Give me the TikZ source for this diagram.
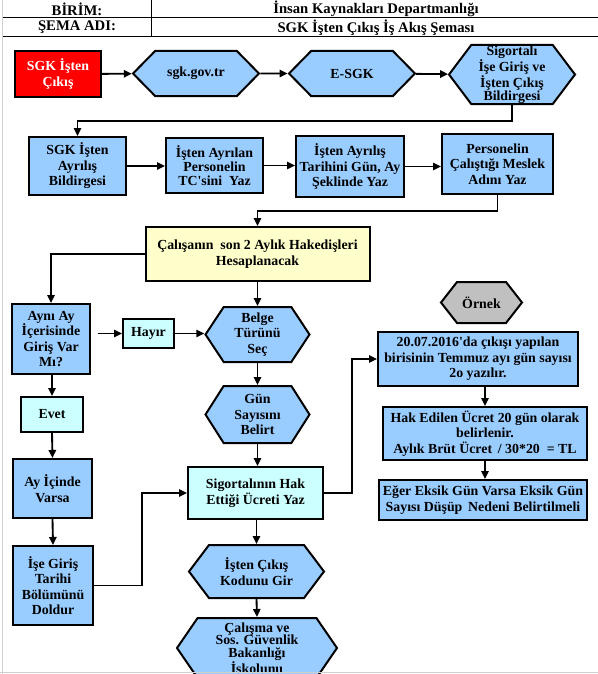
\documentclass[tikz,border=0pt]{standalone}
\usepackage{fontspec}
\setmainfont{Liberation Serif}
\usetikzlibrary{arrows.meta,shapes.symbols}
\definecolor{boxCol}{HTML}{99CCFF}
\definecolor{ansCol}{HTML}{CCFFFF}
\definecolor{calcCol}{HTML}{FFFFCC}
\definecolor{startCol}{HTML}{FF0000}
\definecolor{exCol}{HTML}{C0C0C0}
\definecolor{gridCol}{HTML}{D0D0D0}
\newcommand{\flowfont}{\bfseries\fontsize{10.4}{11.6}\selectfont}
\tikzset{
  stepbox/.style n args={3}{draw=black, fill=#1, line width=1.5pt, align=center,
        font=\flowfont, inner sep=2pt, minimum width={#2*0.75pt}, minimum height={#3*0.75pt}},
  hexa/.style n args={4}{signal, signal to=west and east, draw=black, fill=#1,
        line width=1.5pt, align=center, font=\flowfont, inner sep=0pt,
        minimum width={#2*0.75pt}, minimum height={#3*0.75pt}, signal pointer angle=#4},
  flow/.style={-{Triangle[length=6pt,width=5.5pt]}, line width=1.4pt},
  head/.style={font=\bfseries\fontsize{11}{13}\selectfont},
}

\begin{document}
\begin{tikzpicture}[x=0.75pt, y=-0.75pt]
  \useasboundingbox (0,0) rectangle (598,674);
  \clip (0,0) rectangle (598,674);
  % --- header table ---
  \draw[gridCol, line width=0.75pt] (2.5,0) -- (2.5,674);
  \draw[line width=0.75pt] (2.5,17.5) -- (598,17.5) (2.5,36.5) -- (598,36.5) (151,0) -- (151,36.5);
  \node[head] (birim) at (77,9) {BİRİM:};
  \node[head] (dept) at (376,9) {İnsan Kaynakları Departmanlığı};
  \node[head] (sema) at (77,27.5) {ŞEMA ADI:};
  \node[head] (title) at (376,27.5) {SGK İşten Çıkış İş Akış Şeması};
  % --- first row ---
  \node[stepbox={startCol}{86}{46}, text=white] (start) at (58,74) {SGK İşten\\Çıkış};
  \node[hexa={boxCol}{126}{45}{91}] (web) at (196,73.5) {sgk.gov.tr};
  \node[hexa={boxCol}{126}{45}{91}] (esgk) at (352,73.5) {E-SGK};
  \node[hexa={boxCol}{126}{59}{106}, font=\bfseries\fontsize{10.4}{9.4}\selectfont] (bildirge) at (512,74.5)
       {Sigortalı\\İşe Giriş ve\\İşten Çıkış\\Bildirgesi};
  % --- second row ---
  \node[stepbox={boxCol}{97}{58}] (ayrilis) at (77.5,166) {SGK İşten\\Ayrılış\\Bildirgesi};
  \node[stepbox={boxCol}{97}{55}, font=\bfseries\fontsize{10.4}{10.4}\selectfont] (tc) at (214.5,165.5)
       {İşten Ayrılan\\Personelin\\TC\textquotesingle sini \ Yaz};
  \node[stepbox={boxCol}{108}{61}] (tarih) at (350,166.5) {İşten Ayrılış\\Tarihini Gün, Ay\\Şeklinde Yaz};
  \node[stepbox={boxCol}{111}{60}] (meslek) at (497.5,164) {Personelin\\Çalıştığı Meslek\\Adını Yaz};
  \node[stepbox={calcCol}{224}{54}] (hakedis) at (257.5,254) {Çalışanın \ son 2 Aylık Hakedişleri\\Hesaplanacak};
  % --- left branch ---
  \node[stepbox={boxCol}{78}{70}] (giris) at (51,339) {Aynı Ay\\İçerisinde\\Giriş Var\\Mı?};
  \node[stepbox={ansCol}{51}{29}] (hayir) at (148.5,333.5) {Hayır};
  \node[stepbox={ansCol}{62}{35}] (evet) at (52,414.5) {Evet};
  \node[stepbox={boxCol}{79}{59}] (varsa) at (52.5,488.5) {Ay İçinde\\Varsa};
  \node[stepbox={boxCol}{80}{79}] (giristarih) at (53,585.5) {İşe Giriş\\Tarihi\\Bölümünü\\Doldur};
  % --- middle column ---
  \node[hexa={boxCol}{104}{55}{113}] (belge) at (257.5,334.5) {Belge\\Türünü\\Seç};
  \node[hexa={boxCol}{104}{57}{115}] (gun) at (257.5,414.5) {Gün\\Sayısını\\Belirt};
  \node[stepbox={ansCol}{135}{52}] (ucret) at (255.5,493) {Sigortalının Hak\\Ettiği Ücreti Yaz};
  \node[hexa={boxCol}{135}{53}{106}] (kod) at (256.5,571.5) {İşten Çıkış\\Kodunu Gir};
  \node[hexa={boxCol}{160}{60}{111}, font=\bfseries\fontsize{10.4}{9.4}\selectfont] (iskolu) at (257,648)
       {Çalışma ve\\Sos. Güvenlik\\Bakanlığı\\İskolunu};
  % --- example column ---
  \node[hexa={exCol}{81}{41}{104}] (ornek) at (481.5,302.5) {Örnek};
  \node[stepbox={boxCol}{200}{54}] (ornekA) at (478,359) {20.07.2016\textquotesingle da çıkışı yapılan\\birisinin Temmuz ayı gün sayısı\\2o yazılır.};
  \node[stepbox={boxCol}{204}{53}] (ornekB) at (485,433.5) {Hak Edilen Ücret 20 gün olarak\\belirlenir.\\Aylık Brüt Ücret \,/ 30*20 \ = TL};
  \node[stepbox={boxCol}{208}{40}] (ornekC) at (483,500) {Eğer Eksik Gün Varsa Eksik Gün\\Sayısı Düşüp \,Nedeni Belirtilmeli};
  % first row edges
  \draw[flow] (start) -- (web);
  \draw[flow] (web) -- (esgk);
  \draw[flow] (esgk) -- (bildirge);
  \draw[flow] (bildirge.south) -- ++(0,16) -| (ayrilis.north);
  % second row edges
  \draw[flow] (ayrilis.east) -- (ayrilis.east -| tc.west);
  \draw[flow] (tc.east) -- (tc.east -| tarih.west);
  \draw[flow] (tarih.east) -- (tarih.east -| meslek.west);
  \draw[flow] (meslek.south) -- ++(0,16) -| (hakedis.north);
  % decision branch
  \draw[flow] (hakedis.west) -| (giris.north);
  \draw[flow] (hakedis.south) -- (belge.north);
  \draw[flow, shorten <=5pt] (giris.east |- hayir.west) -- (hayir.west);
  \draw[flow] (hayir.east) -- (hayir.east -| belge.west);
  \draw[flow] (giris.south -| evet.north) -- (evet.north);
  \draw[flow] (evet.south) -- (varsa.north);
  \draw[flow] (varsa.south) -- (giristarih.north);
  \draw[flow] (giristarih.east) -- ++(48,0) |- (ucret.west);
  \draw[flow] (belge.south) -- (gun.north);
  \draw[flow] (gun.south) -- (ucret.north -| gun.south);
  \draw[flow] (ucret.east) -- ++(28,0) |- (ornekA.west);
  \draw[flow] (ornekA.south -| ornekB.north) -- (ornekB.north);
  \draw[flow] (ornekB.south) -- (ornekC.north -| ornekB.south);
  \draw[flow] (ucret.south -| kod.north) -- (kod.north);
  \draw[flow] (kod.south) -- (iskolu.north);
  \draw[gridCol, line width=0.75pt] (0,672.5) -- (598,672.5);
\end{tikzpicture}
\end{document}
